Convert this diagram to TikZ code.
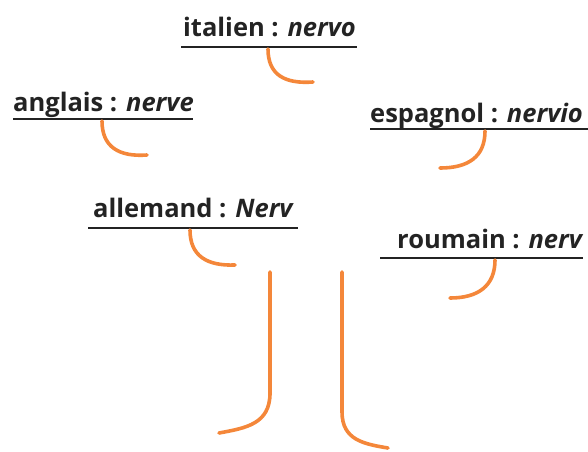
\documentclass[tikz,border=0pt]{standalone}
\usepackage{fontspec}
\setmainfont{Open Sans}
\definecolor{hookorange}{RGB}{244,135,58}
\definecolor{inkdark}{RGB}{35,35,35}
\tikzset{
  wordlabel/.style={anchor=base west, inner sep=0pt, text=inkdark,
    font=\fontsize{25.5}{30}\selectfont\bfseries},
  rule/.style={draw=inkdark, line width=2.2pt},
  branch/.style={draw=hookorange, line width=3.6pt, line cap=round}
}
\begin{document}
\begin{tikzpicture}[x=1pt,y=-1pt]
\useasboundingbox (0,0) rectangle (588,451);

% word labels
\node[wordlabel] (it) at (183,36)  {italien : \textit{nervo}};
\node[wordlabel] (en) at (13,111)  {anglais : \textit{nerve}};
\node[wordlabel] (es) at (370,122) {espagnol : \textit{nervio}};
\node[wordlabel] (de) at (93,217)  {allemand : \textit{Nerv}};
\node[wordlabel] (ro) at (397,248) {roumain : \textit{nerv}};

% underlines
\coordinate (itA) at (181,47);  \coordinate (itB) at (357,47);
\coordinate (enA) at (13,119);  \coordinate (enB) at (193,119);
\coordinate (esA) at (370,129); \coordinate (esB) at (588,129);
\coordinate (deA) at (88,228);  \coordinate (deB) at (298,228);
\coordinate (roA) at (380,258); \coordinate (roB) at (583,258);
\foreach \w in {it,en,es,de,ro}{\draw[rule] (\w A) -- (\w B);}

% hooks hanging from the underlines
\draw[branch] (268,49) .. controls (268,75) and (285,84) .. (313,82);
\draw[branch] (102,121) .. controls (102,147) and (119,157) .. (147,155);
\draw[branch] (190,230) .. controls (190,256) and (207,266) .. (235,265);
\draw[branch] (485,131) .. controls (485,157) and (468,168) .. (440,168);
\draw[branch] (495,260) .. controls (495,286) and (478,298) .. (450,298);

% trunk
\draw[branch] (270,272) -- (270,393) .. controls (270,424) and (246,428) .. (219,433);
\draw[branch] (342,272) -- (342,412) .. controls (342,440) and (364,444) .. (388,448);
\end{tikzpicture}
\end{document}
